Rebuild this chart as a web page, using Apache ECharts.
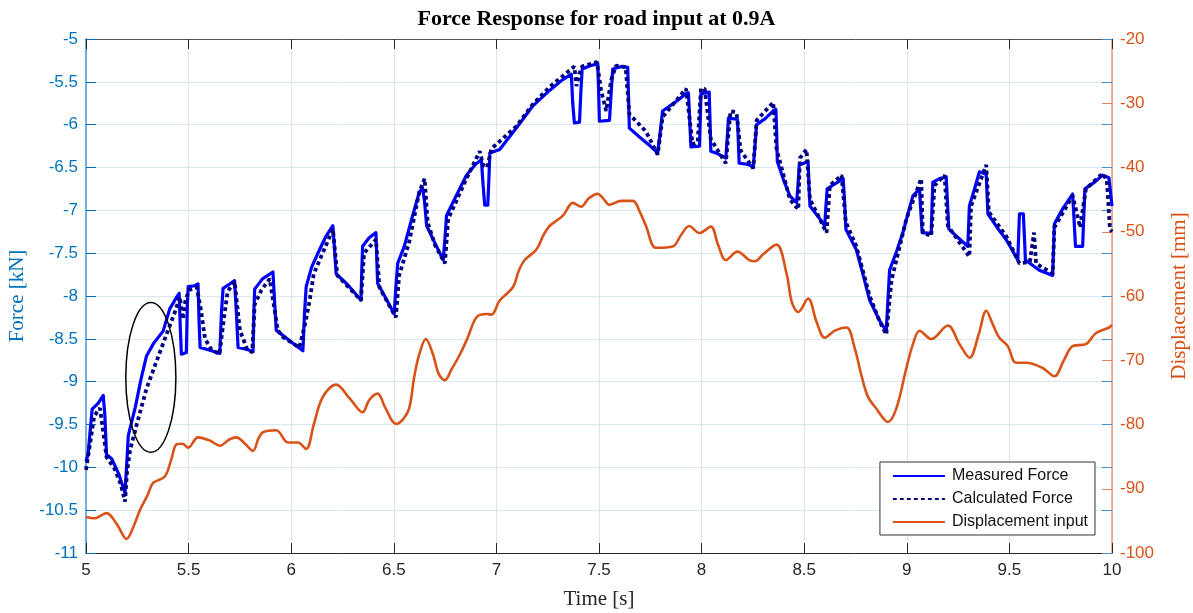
<!DOCTYPE html>
<html>
<head>
<meta charset="utf-8">
<script src="https://cdn.jsdelivr.net/npm/echarts@6/dist/echarts.min.js"></script>
<style>
html,body{margin:0;padding:0;background:#fff;}
#chart{width:1193px;height:613px;}
</style>
</head>
<body>
<div id="chart"></div>
<script>
// ---- DATA ----
const titleText = 'Force Response for road input at 0.9A';
const seriesNames = ['Measured Force', 'Calculated Force', 'Displacement input'];
const xTicks = [5, 5.5, 6, 6.5, 7, 7.5, 8, 8.5, 9, 9.5, 10];
const forceTicks = [-11, -10.5, -10, -9.5, -9, -8.5, -8, -7.5, -7, -6.5, -6, -5.5, -5];
const dispTicks = [-100, -90, -80, -70, -60, -50, -40, -30, -20];

const measuredT = [5.000,5.010,5.030,5.060,5.084,5.092,5.100,5.125,5.160,5.190,5.200,5.206,5.240,5.270,5.295,5.330,5.376,5.408,5.440,5.454,5.460,5.465,5.489,5.494,5.498,5.530,5.546,5.551,5.556,5.600,5.652,5.660,5.668,5.700,5.724,5.733,5.741,5.780,5.814,5.818,5.822,5.860,5.911,5.920,5.927,5.970,6.024,6.057,6.065,6.073,6.100,6.138,6.170,6.203,6.211,6.219,6.280,6.340,6.344,6.348,6.380,6.413,6.417,6.421,6.460,6.502,6.510,6.519,6.551,6.592,6.624,6.640,6.650,6.660,6.700,6.741,6.750,6.757,6.800,6.854,6.900,6.927,6.935,6.943,6.958,6.964,6.968,7.016,7.097,7.178,7.259,7.320,7.365,7.372,7.380,7.405,7.412,7.418,7.460,7.494,7.498,7.502,7.551,7.560,7.567,7.610,7.640,7.644,7.648,7.700,7.750,7.786,7.800,7.810,7.870,7.924,7.936,7.942,7.948,7.990,7.994,7.997,8.037,8.041,8.045,8.080,8.118,8.125,8.131,8.175,8.179,8.183,8.220,8.252,8.260,8.268,8.310,8.349,8.362,8.366,8.369,8.400,8.430,8.463,8.470,8.476,8.519,8.523,8.528,8.570,8.600,8.606,8.612,8.650,8.690,8.697,8.703,8.754,8.790,8.819,8.868,8.900,8.908,8.916,8.950,8.981,9.010,9.030,9.062,9.068,9.075,9.119,9.123,9.127,9.160,9.192,9.198,9.205,9.250,9.297,9.301,9.305,9.330,9.354,9.387,9.391,9.395,9.440,9.484,9.541,9.545,9.549,9.568,9.573,9.578,9.646,9.711,9.715,9.719,9.760,9.808,9.815,9.822,9.857,9.862,9.868,9.910,9.954,9.985,10.000];
const measuredF = [-9.93,-9.85,-9.32,-9.25,-9.16,-9.40,-9.85,-9.90,-10.08,-10.30,-9.90,-9.63,-9.30,-8.95,-8.70,-8.55,-8.41,-8.15,-8.02,-7.97,-8.40,-8.68,-8.66,-8.10,-7.89,-7.88,-7.86,-8.30,-8.60,-8.63,-8.67,-8.20,-7.91,-7.86,-7.82,-8.20,-8.60,-8.62,-8.65,-8.20,-7.92,-7.80,-7.72,-8.10,-8.40,-8.48,-8.58,-8.64,-8.20,-7.89,-7.66,-7.46,-7.30,-7.18,-7.45,-7.74,-7.88,-8.05,-7.70,-7.42,-7.32,-7.26,-7.55,-7.85,-8.02,-8.21,-7.90,-7.62,-7.42,-7.06,-6.79,-6.74,-6.90,-7.18,-7.38,-7.58,-7.30,-7.06,-6.85,-6.59,-6.46,-6.41,-6.70,-6.94,-6.94,-6.60,-6.33,-6.29,-6.04,-5.78,-5.60,-5.48,-5.41,-5.75,-5.98,-5.97,-5.60,-5.35,-5.31,-5.29,-5.60,-5.96,-5.95,-5.60,-5.35,-5.32,-5.33,-5.70,-6.04,-6.15,-6.25,-6.33,-6.05,-5.84,-5.74,-5.64,-5.63,-5.95,-6.26,-6.25,-5.90,-5.64,-5.62,-5.95,-6.31,-6.34,-6.39,-6.15,-5.92,-5.94,-6.20,-6.45,-6.46,-6.49,-6.25,-6.00,-5.93,-5.84,-5.82,-6.10,-6.43,-6.65,-6.83,-6.91,-6.70,-6.47,-6.43,-6.70,-6.95,-7.08,-7.18,-6.95,-6.75,-6.69,-6.63,-6.90,-7.22,-7.46,-7.78,-8.05,-8.29,-8.41,-8.05,-7.70,-7.48,-7.26,-7.00,-6.83,-6.75,-7.00,-7.26,-7.27,-6.95,-6.67,-6.63,-6.61,-6.90,-7.22,-7.32,-7.42,-7.20,-6.95,-6.75,-6.55,-6.58,-6.80,-7.04,-7.20,-7.34,-7.58,-7.30,-7.04,-7.04,-7.30,-7.58,-7.70,-7.76,-7.45,-7.16,-6.98,-6.81,-7.10,-7.42,-7.42,-7.10,-6.75,-6.68,-6.59,-6.62,-6.95];

const calcT = [5.000,5.015,5.040,5.068,5.085,5.100,5.140,5.170,5.190,5.200,5.214,5.246,5.295,5.344,5.392,5.433,5.457,5.473,5.485,5.503,5.540,5.560,5.580,5.610,5.650,5.670,5.690,5.724,5.750,5.785,5.810,5.822,5.855,5.895,5.935,5.960,6.040,6.070,6.090,6.110,6.203,6.225,6.340,6.355,6.413,6.430,6.510,6.526,6.575,6.624,6.650,6.665,6.700,6.749,6.765,6.854,6.919,6.935,6.955,6.976,7.097,7.178,7.259,7.365,7.380,7.390,7.405,7.418,7.490,7.510,7.535,7.560,7.583,7.630,7.648,7.665,7.729,7.786,7.810,7.924,7.940,7.956,7.981,7.997,8.015,8.045,8.118,8.141,8.170,8.190,8.252,8.268,8.349,8.365,8.430,8.471,8.479,8.511,8.528,8.609,8.625,8.682,8.703,8.754,8.819,8.868,8.900,8.925,8.998,9.070,9.078,9.119,9.135,9.184,9.200,9.305,9.313,9.387,9.400,9.484,9.549,9.600,9.620,9.630,9.711,9.719,9.808,9.825,9.845,9.860,9.873,9.954,9.975,9.990,10.000];
const calcF = [-10.03,-9.80,-9.40,-9.31,-9.60,-9.88,-10.02,-10.20,-10.40,-10.05,-9.81,-9.51,-9.08,-8.76,-8.45,-8.19,-8.01,-8.27,-8.05,-7.93,-7.90,-8.16,-8.50,-8.62,-8.68,-8.30,-7.95,-7.83,-8.40,-8.62,-8.66,-8.10,-7.93,-7.80,-8.40,-8.48,-8.60,-8.30,-8.05,-7.74,-7.22,-7.76,-8.05,-7.50,-7.34,-7.90,-8.25,-7.76,-7.37,-6.79,-6.63,-7.14,-7.40,-7.62,-7.10,-6.63,-6.31,-6.47,-6.50,-6.28,-6.02,-5.76,-5.56,-5.35,-5.32,-5.55,-5.40,-5.32,-5.27,-5.60,-5.84,-5.47,-5.31,-5.33,-5.88,-5.92,-6.08,-6.35,-5.91,-5.58,-5.90,-6.23,-6.20,-5.58,-5.58,-6.17,-6.45,-5.84,-5.86,-6.30,-6.51,-5.95,-5.74,-6.28,-6.87,-6.99,-6.39,-6.29,-6.87,-7.26,-6.71,-6.59,-7.14,-7.42,-8.00,-8.30,-8.45,-7.82,-7.10,-6.63,-7.26,-7.30,-6.71,-6.59,-7.18,-7.54,-6.95,-6.47,-7.02,-7.30,-7.62,-7.60,-7.26,-7.62,-7.74,-7.20,-6.83,-7.00,-7.20,-6.95,-6.75,-6.57,-6.65,-7.22,-7.25];

const dispT = [5.000,5.040,5.100,5.150,5.198,5.230,5.263,5.300,5.327,5.384,5.415,5.441,5.470,5.498,5.546,5.603,5.652,5.700,5.733,5.775,5.814,5.840,5.862,5.927,5.984,6.032,6.073,6.110,6.154,6.219,6.284,6.348,6.380,6.421,6.460,6.511,6.545,6.575,6.600,6.624,6.656,6.690,6.720,6.749,6.780,6.822,6.860,6.903,6.951,6.976,7.016,7.081,7.110,7.138,7.194,7.230,7.259,7.324,7.373,7.413,7.450,7.494,7.520,7.551,7.608,7.665,7.700,7.729,7.778,7.859,7.900,7.940,7.989,8.045,8.080,8.118,8.175,8.232,8.260,8.300,8.365,8.414,8.440,8.471,8.519,8.560,8.600,8.649,8.706,8.746,8.780,8.811,8.851,8.908,8.949,8.998,9.030,9.062,9.119,9.200,9.257,9.306,9.350,9.387,9.420,9.451,9.492,9.532,9.581,9.662,9.719,9.767,9.808,9.873,9.921,9.986,10.000];
const dispMM = [-94.4,-94.6,-93.8,-95.5,-97.8,-96.0,-93.3,-91.0,-89.1,-88.1,-85.5,-83.1,-83.0,-83.6,-82.0,-82.5,-83.3,-82.3,-82.0,-83.0,-84.1,-82.2,-81.2,-80.9,-82.8,-82.8,-83.8,-80.0,-75.7,-73.8,-75.9,-78.1,-76.2,-75.2,-77.5,-79.9,-79.2,-77.5,-72.5,-69.1,-66.7,-69.0,-72.2,-73.1,-71.5,-69.1,-66.5,-63.3,-62.8,-62.9,-60.7,-58.6,-56.0,-54.4,-52.8,-50.5,-49.1,-47.5,-45.5,-46.1,-44.8,-44.1,-44.8,-45.8,-45.2,-45.2,-47.0,-49.1,-52.5,-52.3,-50.5,-49.1,-50.2,-49.2,-52.0,-54.4,-53.1,-54.4,-54.6,-53.5,-52.0,-56.5,-61.0,-62.5,-60.4,-64.0,-66.5,-65.4,-64.9,-68.1,-72.5,-75.7,-77.5,-79.6,-77.5,-71.2,-67.5,-65.4,-66.7,-64.6,-67.5,-69.6,-66.0,-62.3,-64.5,-66.5,-67.8,-70.4,-70.4,-71.2,-72.5,-69.9,-67.8,-67.5,-65.8,-64.9,-64.5];

// annotation ellipse (data coordinates: centre time, centre force, half-width s, half-height kN)
const ellipseCenter = [5.316, -8.95];
const ellipseHalf = [0.122, 0.875];

// ---- CHART ----
const zip = (a, b) => a.map((v, i) => [v, b[i]]);
const chart = echarts.init(document.getElementById('chart'), null, {renderer: 'canvas'});

const BLUE = '#0072BD';
const ORANGE = '#D95319';
const sans = 'Liberation Sans, Arial, sans-serif';
const serif = 'Liberation Serif, Times New Roman, serif';

const option = {
  animation: false,
  backgroundColor: '#ffffff',
  title: {
    text: titleText,
    left: 'center',
    top: 3,
    textStyle: {fontFamily: serif, fontWeight: 'bold', fontSize: 22, color: '#000'}
  },
  grid: {left: 86, right: 81, top: 39, bottom: 60, containLabel: false, outerBoundsMode: 'none'},
  legend: {
    data: seriesNames,
    orient: 'vertical',
    right: 98,
    bottom: 78,
    itemWidth: 52,
    itemHeight: 12,
    itemGap: 7,
    backgroundColor: '#ffffff',
    borderColor: '#333',
    borderWidth: 1,
    borderRadius: 0,
    padding: [6, 7, 5, 12],
    itemStyle: {opacity: 0},
    textStyle: {fontFamily: sans, fontSize: 16, color: '#111', padding: [0, 0, 0, 2]}
  },
  xAxis: [{
    type: 'value', min: xTicks[0], max: xTicks[xTicks.length - 1], interval: 0.5,
    name: 'Time [s]', nameLocation: 'middle', nameGap: 36,
    nameTextStyle: {fontFamily: serif, fontSize: 21, color: '#262626'},
    axisLine: {show: true, onZero: false, lineStyle: {color: '#262626', width: 1}},
    axisTick: {show: true, inside: true, length: 10, lineStyle: {color: '#262626'}},
    axisLabel: {fontFamily: sans, fontSize: 17, color: '#262626', margin: 9},
    splitLine: {show: true, lineStyle: {color: '#e3e3e3', width: 1}}
  }, {
    type: 'value', position: 'top', min: xTicks[0], max: xTicks[xTicks.length - 1], interval: 0.5,
    axisLine: {show: true, onZero: false, lineStyle: {color: '#555', width: 1}},
    axisTick: {show: true, inside: true, length: 10, lineStyle: {color: '#262626'}},
    axisLabel: {show: false}, splitLine: {show: false}
  }],
  yAxis: [{
    type: 'value', position: 'left', min: forceTicks[0], max: forceTicks[forceTicks.length - 1], interval: 0.5,
    name: 'Force [kN]', nameLocation: 'middle', nameGap: 56, nameRotate: 90,
    nameTextStyle: {fontFamily: serif, fontSize: 21, color: BLUE},
    axisLine: {show: true, onZero: false, lineStyle: {color: '#4a98d3', width: 1.5}},
    axisTick: {show: true, inside: true, length: 10, lineStyle: {color: BLUE}},
    axisLabel: {fontFamily: sans, fontSize: 17, color: BLUE, margin: 8},
    splitLine: {show: true, lineStyle: {color: '#d8e8f4', width: 1}}
  }, {
    type: 'value', position: 'right', min: dispTicks[0], max: dispTicks[dispTicks.length - 1], interval: 10,
    name: 'Displacement [mm]', nameLocation: 'middle', nameGap: 57, nameRotate: 90,
    nameTextStyle: {fontFamily: serif, fontSize: 21, color: ORANGE},
    axisLine: {show: true, onZero: false, lineStyle: {color: '#ec9a7c', width: 1.5}},
    axisTick: {show: true, inside: true, length: 10, lineStyle: {color: '#e8825e'}},
    axisLabel: {fontFamily: sans, fontSize: 17, color: ORANGE, margin: 8},
    splitLine: {show: false}
  }, {
    type: 'value', position: 'right', min: forceTicks[0], max: forceTicks[forceTicks.length - 1], interval: 0.5,
    axisLine: {show: false},
    axisTick: {show: true, inside: true, length: 10, lineStyle: {color: '#3d8fd0'}},
    axisLabel: {show: false}, splitLine: {show: false}
  }],
  series: [{
    name: seriesNames[0], type: 'line', xAxisIndex: 0, yAxisIndex: 0,
    data: zip(measuredT, measuredF), symbol: 'none', showSymbol: false,
    lineStyle: {color: '#0000FF', width: 3.2, join: 'round'},
    itemStyle: {color: '#0000FF'}, z: 3
  }, {
    name: seriesNames[1], type: 'line', xAxisIndex: 0, yAxisIndex: 0,
    data: zip(calcT, calcF), symbol: 'none', showSymbol: false,
    lineStyle: {color: '#000080', width: 3.8, type: [3.8, 3.2], cap: 'butt'},
    itemStyle: {color: '#000080'}, z: 4
  }, {
    name: seriesNames[2], type: 'line', xAxisIndex: 0, yAxisIndex: 1,
    data: zip(dispT, dispMM), symbol: 'none', showSymbol: false, smooth: 0.35,
    lineStyle: {color: ORANGE, width: 2.6},
    itemStyle: {color: ORANGE}, z: 2
  }]
};
chart.setOption(option);

// ellipse annotation placed through the chart's own coordinate conversion
const c = chart.convertToPixel({xAxisIndex: 0, yAxisIndex: 0}, ellipseCenter);
const e = chart.convertToPixel({xAxisIndex: 0, yAxisIndex: 0},
  [ellipseCenter[0] + ellipseHalf[0], ellipseCenter[1] + ellipseHalf[1]]);
chart.setOption({
  graphic: [{
    type: 'ellipse',
    shape: {cx: c[0], cy: c[1], rx: Math.abs(e[0] - c[0]), ry: Math.abs(e[1] - c[1])},
    style: {fill: 'none', stroke: '#000', lineWidth: 1.5},
    z: 10
  }]
});
</script>
</body>
</html>
